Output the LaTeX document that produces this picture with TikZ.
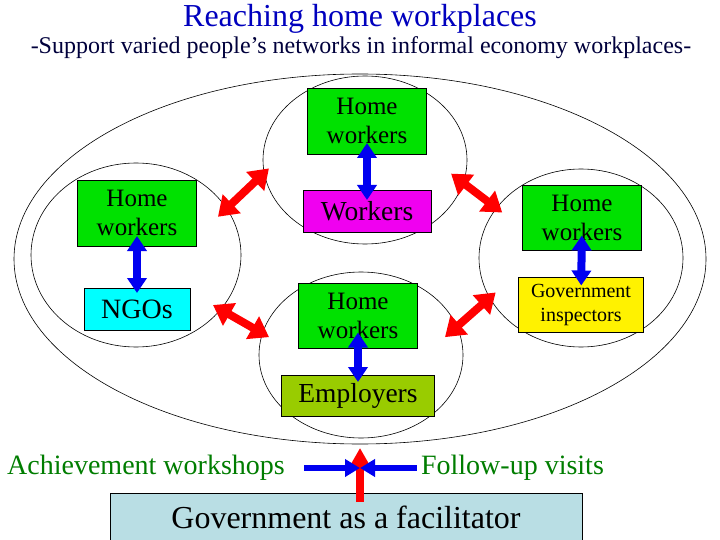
\documentclass[tikz,border=0pt]{standalone}
\usepackage{fontspec}
\setmainfont{Liberation Serif}
\usetikzlibrary{arrows.meta,shapes.geometric,calc}
\definecolor{hwgreen}{RGB}{0,225,0}
\definecolor{wkmag}{RGB}{240,0,240}
\definecolor{ngocyan}{RGB}{0,255,255}
\definecolor{empgreen}{RGB}{153,204,0}
\definecolor{govblue}{RGB}{185,222,228}
\definecolor{titleblue}{RGB}{0,0,190}
\definecolor{subnavy}{RGB}{0,0,60}
\definecolor{txtgreen}{RGB}{0,125,0}
\definecolor{arrred}{RGB}{255,0,0}
\definecolor{arrblue}{RGB}{0,0,240}

\begin{document}
\begin{tikzpicture}[x=1pt, y=-1pt,
	ring/.style={draw, ellipse, line width=0.6pt, inner sep=0pt, outer sep=0pt},
	box/.style={draw, line width=0.8pt, align=center, inner sep=0pt, outer sep=0pt, font=\fontsize{25}{29}\selectfont},
	hw/.style={box, fill=hwgreen, minimum width=119pt, minimum height=66pt},
	lbl/.style={inner sep=0pt, text=txtgreen, font=\fontsize{28}{30}\selectfont},
	redarr/.style={arrred, line width=8pt, {Triangle[length=19pt,width=25pt]}-{Triangle[length=19pt,width=25pt]}},
	bluearr/.style={arrblue, line width=8pt, {Triangle[length=15pt,width=19pt]}-{Triangle[length=15pt,width=19pt]}},
	hblue/.style={arrblue, line width=6pt, -{Triangle[length=15pt,width=17pt]}}]
	\clip (0,0) rectangle (720,540);
	\fill[white] (0,0) rectangle (720,540);
	\node[font=\fontsize{32}{36}\selectfont, text=titleblue, inner sep=0pt] (title) at (360,19) {Reaching home workplaces};
	\node[font=\fontsize{24}{28}\selectfont, text=subnavy, inner sep=0pt] (sub) at (361,48) {-Support varied people’s networks in informal economy workplaces-};
	\node[ring, minimum width=692pt, minimum height=370pt] (outer) at (360,259) {};
	\node[ring, minimum width=210pt, minimum height=184pt] (lring) at (136,255) {};
	\node[ring, minimum width=204pt, minimum height=168pt] (tring) at (365,160) {};
	\node[ring, minimum width=204pt, minimum height=178pt] (rring) at (581,258) {};
	\node[ring, minimum width=204pt, minimum height=166pt] (bring) at (361,355) {};
	\node[hw] (tophw) at (367,121) {Home\\workers};
	\node[box, fill=wkmag, minimum width=128pt, minimum height=42pt, font=\fontsize{27.5}{30}\selectfont] (work) at (367,211) {Workers};
	\node[hw] (lhw) at (137,213) {Home\\workers};
	\node[box, fill=ngocyan, minimum width=106pt, minimum height=42pt, font=\fontsize{28}{30}\selectfont] (ngo) at (137,309) {NGOs};
	\node[hw, minimum height=65pt] (bhw) at (358,316) {Home\\workers};
	\node[box, fill=empgreen, minimum width=153pt, minimum height=41pt, font=\fontsize{27.5}{30}\selectfont] (emp) at (358,395.5) {Employers};
	\node[hw, minimum height=65pt] (rhw) at (582,218) {Home\\workers};
	\node[box, fill=yellow, minimum width=125pt, minimum height=55pt, font=\fontsize{20}{24}\selectfont] (gins) at (581,305) {Government\\inspectors};
	\node[box, fill=govblue, minimum width=472pt, minimum height=48pt, font=\fontsize{32}{36}\selectfont] (gov) at (346,517) {Government as a facilitator};
	\node[lbl] (ach) at (146,468) {Achievement workshops};
	\node[lbl] (fol) at (512.5,468) {Follow-up visits};
	\coordinate (meet) at (360,468);
	\draw[bluearr, shorten <=-11pt, shorten >=-10pt] (tophw) -- (work);
	\draw[bluearr, shorten <=-10pt, shorten >=-5pt] (lhw) -- (ngo);
	\draw[bluearr, shorten <=-15pt, shorten >=-8pt] (rhw) -- (gins);
	\draw[bluearr, shorten <=-16pt, shorten >=-7pt] (bhw) -- (emp);
	\draw[redarr] ($(lring.center)!.884!(lring.25)$) -- ($(tring.center)!.947!(tring.185)$);
	\draw[redarr] ($(lring.center)!.913!(lring.-33)$) -- ($(bring.center)!.927!(bring.169)$);
	\draw[redarr] ($(tring.center)!.859!(tring.-9)$) -- ($(rring.center)!.926!(rring.150)$);
	\draw[redarr] ($(bring.center)!.851!(bring.12)$) -- ($(rring.center)!.922!(rring.202)$);
	\draw[arrred, line width=8pt, -{Triangle[length=18pt,width=19pt]}, shorten <=-9pt, shorten >=4pt] (outer.south |- gov.north) -- (outer.south);
	\draw[hblue, shorten <=19pt] (ach) -- (meet);
	\draw[hblue, shorten <=4pt] (fol) -- (meet);
\end{tikzpicture}
\end{document}
